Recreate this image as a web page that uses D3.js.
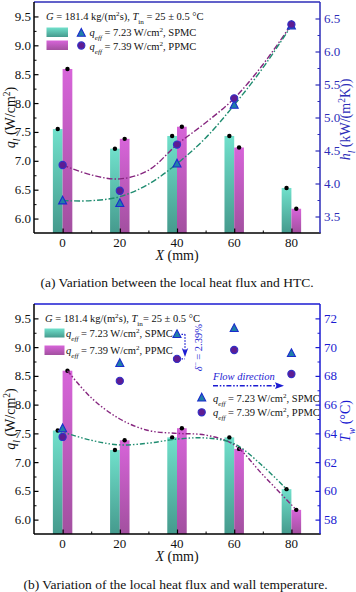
<!DOCTYPE html>
<html><head><meta charset="utf-8">
<script src="https://cdn.jsdelivr.net/npm/d3@7"></script>
<style>
html,body{margin:0;padding:0;background:#fff;}
svg{display:block;font-family:"Liberation Serif","Times New Roman",serif;}
</style></head>
<body>
<svg id="c" width="356" height="592"></svg>
<script>
// ---------- data ----------
const xPos = [0, 20, 40, 60, 80];
const xTicks = [0, 20, 40, 60, 80];
const qSPMC = [7.55, 7.21, 7.43, 7.43, 6.53];      // local heat flux, SPMC (W/cm2)
const qPPMC = [8.59, 7.38, 7.59, 7.23, 6.17];      // local heat flux, PPMC (W/cm2)
const hSPMC = [3.74, 3.70, 4.30, 5.19, 6.39];      // HTC, SPMC (kW/(m2K))
const hPPMC = [4.28, 3.89, 4.59, 5.29, 6.41];      // HTC, PPMC
const hFitX = [0, 10, 20, 30, 40, 50, 60, 70, 80];
const hFitSPMC = [3.74, 3.74, 3.80, 3.99, 4.30, 4.69, 5.19, 5.75, 6.39];
const hFitPPMC = [4.28, 4.13, 4.07, 4.20, 4.59, 4.92, 5.29, 5.80, 6.41];
const tSPMC = [64.34, 68.88, 70.89, 71.31, 69.57]; // wall temperature, SPMC (°C)
const tPPMC = [63.75, 67.65, 69.18, 69.80, 68.13]; // wall temperature, PPMC
const qFitXS = [-1.7, 10, 20, 30, 40, 50, 60, 70, 78.3];
const qFitSPMC = [7.55, 7.38, 7.30, 7.33, 7.40, 7.42, 7.32, 6.93, 6.53];
const qFitXP = [1.7, 10, 20, 30, 40, 50, 60, 70, 81.7];
const qFitPPMC = [8.59, 8.12, 7.75, 7.55, 7.50, 7.47, 7.30, 6.78, 6.17];
const qTicks = [6.0, 6.5, 7.0, 7.5, 8.0, 8.5, 9.0, 9.5];
const hTicks = [3.5, 4.0, 4.5, 5.0, 5.5, 6.0, 6.5];
const tTicks = [58, 60, 62, 64, 66, 68, 70, 72];

// ---------- styles ----------
const BLUE_A = "#2d2db8", BLUE_B = "#1b1bd2";
const TRI_FILL = "#1f7fa8", TRI_STROKE = "#1a2ccc";
const CIR_FILL = "#5e1c92", CIR_STROKE = "#3030c8";
const PUR_LINE = "#86267f", TEAL_LINE = "#1f8c70";
const BAR_HALF = 3.4;

const svg = d3.select("#c");
const defs = svg.append("defs");
function grad(id, c1, c2) {
  const g = defs.append("linearGradient").attr("id", id).attr("x1", 0).attr("y1", 0).attr("x2", 0).attr("y2", 1);
  g.append("stop").attr("offset", "0%").attr("stop-color", c1);
  g.append("stop").attr("offset", "100%").attr("stop-color", c2);
}
grad("gTeal", "#70e0cb", "#459a8d");
grad("gMag", "#d764d9", "#a2509f");

const L = 34, R = 320;
const x = d3.scaleLinear().domain([-10, 90]).range([L, R]);

function triPath(cx, cy, s) {
  const h = s * 0.9;
  return `M${cx},${cy - h * 0.62}L${cx + s / 2},${cy + h * 0.45}L${cx - s / 2},${cy + h * 0.45}Z`;
}
function tri(g, cx, cy) {
  g.append("path").attr("d", triPath(cx, cy, 8)).attr("fill", TRI_FILL).attr("stroke", TRI_STROKE).attr("stroke-width", 1.1);
}
function cir(g, cx, cy) {
  g.append("circle").attr("cx", cx).attr("cy", cy).attr("r", 3.6).attr("fill", CIR_FILL).attr("stroke", CIR_STROKE).attr("stroke-width", 1.1);
}

function richText(g, xx, yy, parts, size, opts = {}) {
  const t = g.append("text").attr("x", xx).attr("y", yy).attr("font-size", size)
    .attr("fill", opts.fill || "#111");
  if (opts.anchor) t.attr("text-anchor", opts.anchor);
  if (opts.transform) t.attr("transform", opts.transform);
  parts.forEach(p => {
    const s = t.append("tspan").text(p.t);
    if (p.i) s.attr("font-style", "italic");
    if (p.sup) s.attr("baseline-shift", "super").attr("font-size", size * 0.68);
    if (p.sub) s.attr("baseline-shift", "sub").attr("font-size", size * 0.68);
  });
  return t;
}

function panel(top, bottom, yRightDomain, rightTicks, rightMinor, rightColor, rightFmt, rightLabelParts) {
  const g = svg.append("g");
  const y = d3.scaleLinear().domain([5.75, 9.75]).range([bottom, top]);
  const y2 = d3.scaleLinear().domain(yRightDomain).range([bottom, top]);

  // bars
  xPos.forEach((xv, i) => {
    g.append("rect").attr("x", x(xv - BAR_HALF)).attr("width", x(xv) - x(xv - BAR_HALF))
      .attr("y", y(qSPMC[i])).attr("height", bottom - y(qSPMC[i])).attr("fill", "url(#gTeal)");
    g.append("rect").attr("x", x(xv)).attr("width", x(xv + BAR_HALF) - x(xv))
      .attr("y", y(qPPMC[i])).attr("height", bottom - y(qPPMC[i])).attr("fill", "url(#gMag)");
  });
  // dots on bars
  xPos.forEach((xv, i) => {
    g.append("circle").attr("cx", x(xv - BAR_HALF / 2)).attr("cy", y(qSPMC[i])).attr("r", 2.2).attr("fill", "#000");
    g.append("circle").attr("cx", x(xv + BAR_HALF / 2)).attr("cy", y(qPPMC[i])).attr("r", 2.2).attr("fill", "#000");
  });

  // axes frame
  g.append("line").attr("x1", L).attr("x2", R).attr("y1", top).attr("y2", top).attr("stroke", rightColor).attr("stroke-width", 1.5);
  g.append("line").attr("x1", L).attr("x2", R + 0.75).attr("y1", bottom).attr("y2", bottom).attr("stroke", "#000").attr("stroke-width", 1.5);
  g.append("line").attr("x1", L).attr("x2", L).attr("y1", top).attr("y2", bottom).attr("stroke", "#000").attr("stroke-width", 1.5);
  g.append("line").attr("x1", R).attr("x2", R).attr("y1", top).attr("y2", bottom).attr("stroke", rightColor).attr("stroke-width", 1.5);

  // left axis
  const la = d3.axisRight(y).tickValues(qTicks).tickSize(4.5).tickFormat("");
  g.append("g").attr("transform", `translate(${L},0)`).call(la).call(s => { s.select(".domain").remove(); s.selectAll("line").attr("stroke", "#000").attr("stroke-width", 1.2); });
  const lam = d3.axisRight(y).tickValues(qTicks.map(v => v + 0.25).filter(v => v < 9.75)).tickSize(2.5).tickFormat("");
  g.append("g").attr("transform", `translate(${L},0)`).call(lam).call(s => { s.select(".domain").remove(); s.selectAll("line").attr("stroke", "#000").attr("stroke-width", 1); });
  qTicks.forEach(v => g.append("text").attr("x", L - 3).attr("y", y(v) + 4.5).attr("text-anchor", "end").attr("font-size", 13).attr("fill", "#111").text(v.toFixed(1)));

  // right axis
  const ra = d3.axisLeft(y2).tickValues(rightTicks).tickSize(4.5).tickFormat("");
  g.append("g").attr("transform", `translate(${R},0)`).call(ra).call(s => { s.select(".domain").remove(); s.selectAll("line").attr("stroke", rightColor).attr("stroke-width", 1.2); });
  const ram = d3.axisLeft(y2).tickValues(rightMinor).tickSize(2.5).tickFormat("");
  g.append("g").attr("transform", `translate(${R},0)`).call(ram).call(s => { s.select(".domain").remove(); s.selectAll("line").attr("stroke", rightColor).attr("stroke-width", 1); });
  rightTicks.forEach(v => g.append("text").attr("x", R + 4).attr("y", y2(v) + 4.5).attr("font-size", 13).attr("fill", rightColor).text(rightFmt(v)));

  // bottom axis
  const ba = d3.axisTop(x).tickValues(xTicks).tickSize(4.5).tickFormat("");
  g.append("g").attr("transform", `translate(0,${bottom})`).call(ba).call(s => { s.select(".domain").remove(); s.selectAll("line").attr("stroke", "#000").attr("stroke-width", 1.2); });
  const bam = d3.axisTop(x).tickValues([10, 30, 50, 70]).tickSize(2.5).tickFormat("");
  g.append("g").attr("transform", `translate(0,${bottom})`).call(bam).call(s => { s.select(".domain").remove(); s.selectAll("line").attr("stroke", "#000").attr("stroke-width", 1); });
  xTicks.forEach(v => g.append("text").attr("x", x(v)).attr("y", bottom + 14).attr("text-anchor", "middle").attr("font-size", 13).attr("fill", "#111").text(v));

  // axis titles
  richText(g, x(40), bottom + 27, [{ t: "X", i: 1 }, { t: " (mm)" }], 14, { anchor: "middle" });
  const cy = (top + bottom) / 2;
  richText(g, 0, 0, [{ t: "q", i: 1 }, { t: "l", i: 1, sub: 1 }, { t: " (W/cm" }, { t: "2", sup: 1 }, { t: ")" }], 14,
    { anchor: "middle", transform: `translate(14.5,${cy}) rotate(-90)` });
  richText(g, 0, 0, rightLabelParts, 14, { anchor: "middle", fill: rightColor, transform: `translate(350,${cy + 2}) rotate(-90)` });

  return { g, y, y2 };
}

// ===== panel (a) =====
const A = panel(2, 233, [3.25, 6.75], hTicks, hTicks.map(v => v + 0.25).filter(v => v < 6.75), BLUE_A, d => d.toFixed(1),
  [{ t: "h", i: 1 }, { t: "l", i: 1, sub: 1 }, { t: " (kW/(m" }, { t: "2", sup: 1 }, { t: "K))" }]);

const lineA = d3.line().x(d => x(d[0])).y(d => A.y2(d[1])).curve(d3.curveCatmullRom.alpha(0.5));
A.g.append("path").attr("d", lineA(hFitX.map((v, i) => [v, hFitPPMC[i]]))).attr("fill", "none")
  .attr("stroke", PUR_LINE).attr("stroke-width", 1.4).attr("stroke-dasharray", "6,2,1.5,2");
A.g.append("path").attr("d", lineA(hFitX.map((v, i) => [v, hFitSPMC[i]]))).attr("fill", "none")
  .attr("stroke", TEAL_LINE).attr("stroke-width", 1.4).attr("stroke-dasharray", "6,2,1.5,2");
xPos.forEach((xv, i) => tri(A.g, x(xv), A.y2(hSPMC[i])));
xPos.forEach((xv, i) => cir(A.g, x(xv), A.y2(hPPMC[i])));

// legend (a)
richText(A.g, 46, 20, [{ t: "G", i: 1 }, { t: " = 181.4 kg/(m" }, { t: "2", sup: 1 }, { t: "s), " }, { t: "T", i: 1 }, { t: "in", sub: 1 }, { t: " = 25 ± 0.5 °C" }], 10.5);
A.g.append("rect").attr("x", 46.5).attr("y", 27.5).attr("width", 21.5).attr("height", 9.5).attr("fill", "url(#gTeal)");
A.g.append("rect").attr("x", 46.5).attr("y", 40.5).attr("width", 21.5).attr("height", 9.5).attr("fill", "url(#gMag)");
tri(A.g, 81.3, 33);
cir(A.g, 81.3, 45.5);
richText(A.g, 89.5, 36, [{ t: "q", i: 1 }, { t: "eff", i: 1, sub: 1 }, { t: " = 7.23 W/cm" }, { t: "2", sup: 1 }, { t: ", SPMC" }], 10.5);
richText(A.g, 89.5, 49.5, [{ t: "q", i: 1 }, { t: "eff", i: 1, sub: 1 }, { t: " = 7.39 W/cm" }, { t: "2", sup: 1 }, { t: ", PPMC" }], 10.5);

svg.append("text").attr("x", 177).attr("y", 287).attr("text-anchor", "middle").attr("font-size", 13.5).attr("fill", "#111")
  .text("(a) Variation between the local heat flux and HTC.");

// ===== panel (b) =====
const B = panel(304, 534, [57, 73], tTicks, tTicks.map(v => v + 1).filter(v => v < 73), BLUE_B, d => d,
  [{ t: "T", i: 1 }, { t: "w", i: 1, sub: 1 }, { t: " (°C)" }]);

const lineB = d3.line().x(d => x(d[0])).y(d => B.y(d[1])).curve(d3.curveCatmullRom.alpha(0.5));
B.g.append("path").attr("d", lineB(qFitXP.map((v, i) => [v, qFitPPMC[i]]))).attr("fill", "none")
  .attr("stroke", PUR_LINE).attr("stroke-width", 1.4).attr("stroke-dasharray", "5,2,1.5,2,1.5,2");
B.g.append("path").attr("d", lineB(qFitXS.map((v, i) => [v, qFitSPMC[i]]))).attr("fill", "none")
  .attr("stroke", TEAL_LINE).attr("stroke-width", 1.4).attr("stroke-dasharray", "5,2,1.5,2,1.5,2");
xPos.forEach((xv, i) => tri(B.g, x(xv), B.y2(tSPMC[i])));
xPos.forEach((xv, i) => cir(B.g, x(xv), B.y2(tPPMC[i])));

// legend (b) left
richText(B.g, 45, 322, [{ t: "G", i: 1 }, { t: " = 181.4 kg/(m" }, { t: "2", sup: 1 }, { t: "s), " }, { t: "T", i: 1 }, { t: "in", sub: 1 }, { t: "= 25 ± 0.5 °C" }], 10.5);
B.g.append("rect").attr("x", 44.5).attr("y", 328.5).attr("width", 20).attr("height", 9).attr("fill", "url(#gTeal)");
B.g.append("rect").attr("x", 44.5).attr("y", 345.5).attr("width", 20).attr("height", 9.5).attr("fill", "url(#gMag)");
richText(B.g, 66, 336.5, [{ t: "q", i: 1 }, { t: "eff", i: 1, sub: 1 }, { t: " = 7.23 W/cm" }, { t: "2", sup: 1 }, { t: ", SPMC" }], 10.5);
richText(B.g, 66, 354, [{ t: "q", i: 1 }, { t: "eff", i: 1, sub: 1 }, { t: " = 7.39 W/cm" }, { t: "2", sup: 1 }, { t: ", PPMC" }], 10.5);

// legend (b) right
richText(B.g, 213, 379.5, [{ t: "Flow direction", i: 1 }], 10.5, { fill: BLUE_B });
B.g.append("line").attr("x1", 213).attr("x2", 277).attr("y1", 385.7).attr("y2", 385.7).attr("stroke", BLUE_B)
  .attr("stroke-width", 1.4).attr("stroke-dasharray", "5,1.8,1.5,1.8,1.5,1.8");
B.g.append("path").attr("d", "M284,385.7L275,382.3L276.5,385.7L275,389.1Z").attr("fill", BLUE_B);
tri(B.g, 201.7, 397.7);
cir(B.g, 201.7, 412.3);
richText(B.g, 213, 401.5, [{ t: "q", i: 1 }, { t: "eff", i: 1, sub: 1 }, { t: " = 7.23 W/cm" }, { t: "2", sup: 1 }, { t: ", SPMC" }], 10.5);
richText(B.g, 213, 416, [{ t: "q", i: 1 }, { t: "eff", i: 1, sub: 1 }, { t: " = 7.39 W/cm" }, { t: "2", sup: 1 }, { t: ", PPMC" }], 10.5);

// delta annotation at X = 40
const ax = x(40), yT = B.y2(tSPMC[2]), yC = B.y2(tPPMC[2]), vx = ax + 8;
const dot = { stroke: BLUE_B, "stroke-width": 1.3, "stroke-dasharray": "1.5,1.5" };
function dl(x1, y1, x2, y2) { const l = B.g.append("line").attr("x1", x1).attr("y1", y1).attr("x2", x2).attr("y2", y2); Object.entries(dot).forEach(([k, v]) => l.attr(k, v)); }
dl(ax + 4.5, yT, vx, yT);
dl(ax + 4.5, yC, vx, yC);
dl(vx, yT, vx, yC - 6);
B.g.append("path").attr("d", `M${vx},${yC - 2}L${vx - 3.2},${yC - 11}L${vx},${yC - 8.5}L${vx + 3.2},${yC - 11}Z`).attr("fill", BLUE_B);
richText(B.g, 0, 0, [{ t: "δ", i: 1 }, { t: "−", sup: 1 }, { t: " = 2.39%" }], 10.5,
  { anchor: "middle", fill: BLUE_B, transform: `translate(201.5,${(yT + yC) / 2 + 1}) rotate(-90)` });

svg.append("text").attr("x", 175.5).attr("y", 589).attr("text-anchor", "middle").attr("font-size", 13.5).attr("fill", "#111")
  .text("(b) Variation of the local heat flux and wall temperature.");
</script>
</body></html>
